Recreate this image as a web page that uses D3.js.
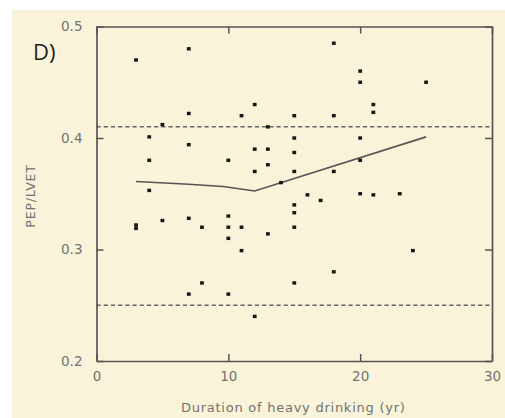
<!DOCTYPE html>
<html>
<head>
<meta charset="utf-8">
<script src="https://cdn.jsdelivr.net/npm/d3@7"></script>
<style>
  html, body { margin: 0; padding: 0; background: #ffffff; }
  svg { display: block; }
</style>
</head>
<body>
<script>
// ---- data ----
const durationYears = [3,7,7,5,4,7,4,4,3,3,5,7,7,8,8,10,10,10,10,10,11,11,11,12,12,12,12,13,13,13,13,14,15,15,15,15,15,15,15,15,16,17,18,18,18,18,20,20,20,20,20,21,21,21,23,24,25];
const pepLvet = [0.470,0.480,0.422,0.412,0.401,0.394,0.380,0.353,0.322,0.319,0.326,0.328,0.260,0.320,0.270,0.380,0.330,0.320,0.310,0.260,0.420,0.320,0.299,0.430,0.390,0.370,0.240,0.410,0.390,0.376,0.314,0.360,0.420,0.400,0.387,0.370,0.340,0.333,0.320,0.270,0.349,0.344,0.485,0.420,0.370,0.280,0.460,0.450,0.400,0.380,0.350,0.430,0.423,0.349,0.350,0.299,0.450];
const fitX = [3, 7, 9.6, 12, 25];
const fitY = [0.361, 0.3585, 0.3565, 0.3525, 0.401];
const refLimits = [0.41, 0.25];
const xTicks = [0, 10, 20, 30];
const yTicks = [0.2, 0.3, 0.4, 0.5];
const xTitle = "Duration of heavy drinking (yr)";
const yTitle = "PEP/LVET";
const panelLabel = "D)";

(function () {
// ---- layout ----
const W = 505, H = 418;
const mLeft = 96.5, mRight = 492, mTop = 26.5, mBottom = 361;
const bg = "#f9f3da";
const axisCol = "#555555";
const textCol = "#727272";

const svg = d3.select("body").append("svg").attr("width", W).attr("height", H);
svg.append("rect").attr("x", 0).attr("y", 0).attr("width", W).attr("height", H).attr("fill", "#ffffff");
svg.append("rect").attr("x", 12).attr("y", 10).attr("width", W - 12).attr("height", H - 10).attr("fill", bg);

const x = d3.scaleLinear().domain([0, 30]).range([mLeft, mRight]);
const y = d3.scaleLinear().domain([0.2, 0.5]).range([mBottom, mTop]);

// reference dashed lines
svg.append("g").selectAll("line").data(refLimits).join("line")
  .attr("x1", x(0)).attr("x2", x(30))
  .attr("y1", d => y(d)).attr("y2", d => y(d))
  .attr("stroke", "#666666").attr("stroke-width", 1.5)
  .attr("stroke-dasharray", "4.2,3");

// axes (inward ticks on all four sides)
const font = "'DejaVu Sans', sans-serif";
function styleAxis(g) {
  g.select(".domain").attr("stroke", axisCol).attr("stroke-width", 1.7);
  g.selectAll(".tick line").attr("stroke", axisCol).attr("stroke-width", 1.5);
  g.selectAll(".tick text").attr("fill", textCol).style("font-family", font).style("font-size", "13.5px");
}
svg.append("g").attr("transform", `translate(0,${mBottom})`)
  .call(d3.axisBottom(x).tickValues(xTicks).tickSizeInner(-7).tickSizeOuter(0).tickPadding(10.5).tickFormat(d3.format("d")))
  .call(styleAxis);
svg.append("g").attr("transform", `translate(0,${mTop})`)
  .call(d3.axisTop(x).tickValues(xTicks).tickSizeInner(-7).tickSizeOuter(0).tickFormat(""))
  .call(styleAxis);
svg.append("g").attr("transform", `translate(${mLeft},0)`)
  .call(d3.axisLeft(y).tickValues(yTicks).tickSizeInner(-7).tickSizeOuter(0).tickPadding(14).tickFormat(d3.format(".1f")))
  .call(styleAxis);
svg.append("g").attr("transform", `translate(${mRight},0)`)
  .call(d3.axisRight(y).tickValues(yTicks).tickSizeInner(-7).tickSizeOuter(0).tickFormat(""))
  .call(styleAxis);

// fitted curve
const pts = fitX.map((d, i) => [d, fitY[i]]);
svg.append("path").datum(pts)
  .attr("fill", "none").attr("stroke", "#555555").attr("stroke-width", 1.6)
  .attr("d", d3.line().x(d => x(d[0])).y(d => y(d[1])));

// points
const data = durationYears.map((d, i) => ({ x: d, y: pepLvet[i] }));
svg.append("g").selectAll("rect").data(data).join("rect")
  .attr("x", d => x(d.x) - 1.9).attr("y", d => y(d.y) - 1.7)
  .attr("width", 3.8).attr("height", 3.4)
  .attr("fill", "#161616");

// titles
svg.append("text").attr("x", (mLeft + mRight) / 2 - 1).attr("y", 412)
  .attr("text-anchor", "middle").attr("fill", textCol)
  .style("font-family", font).style("font-size", "13px").style("letter-spacing", "0.75px")
  .text(xTitle);
svg.append("text").attr("transform", `translate(35,196) rotate(-90)`)
  .attr("text-anchor", "middle").attr("fill", textCol)
  .style("font-family", font).style("font-size", "12.5px").style("letter-spacing", "0.8px")
  .text(yTitle);
svg.append("text").attr("x", 33).attr("y", 60)
  .attr("fill", "#1e1e1e")
  .style("font-family", "'Open Sans', 'Liberation Sans', sans-serif").style("font-size", "22px")
  .text(panelLabel);
})();
</script>
</body>
</html>
